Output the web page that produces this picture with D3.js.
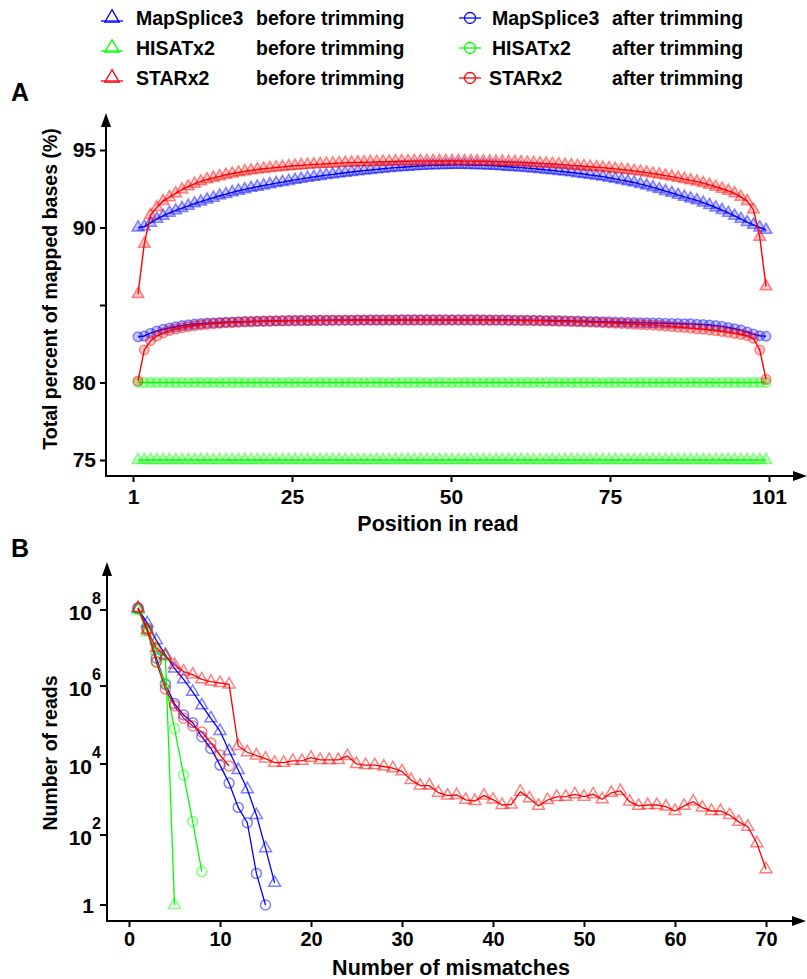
<!DOCTYPE html>
<html><head><meta charset="utf-8">
<script src="https://cdn.jsdelivr.net/npm/d3@7/dist/d3.min.js"></script>
<style>
body{margin:0;background:#fff}
text{font-family:"Liberation Sans",Arial,sans-serif;font-weight:bold;fill:#000}
</style></head><body>
<svg id="c" width="807" height="979"></svg>
<script>
// ---------------- DATA ----------------
const tools = ["MapSplice3", "HISATx2", "STARx2"];
const toolColors = ["#0000ff", "#00ff00", "#ff0000"];

// Panel A: total percent of mapped bases at each read position (1..101)
const positionTickLabels = ["1", "25", "50", "75", "101"];
const percentTicks = [75, 80, 85, 90, 95];
const percentTickLabels = ["75", "80", "", "90", "95"];

const mapSpliceBeforeA = [90.0,90.05,90.3,90.55,90.75,90.95,91.1,91.25,91.4,91.55,91.67,91.8,91.92,92.05,92.15,92.27,92.37,92.46,92.55,92.63,92.71,92.78,92.86,92.93,93.0,93.07,93.14,93.2,93.26,93.32,93.38,93.43,93.48,93.53,93.58,93.63,93.67,93.71,93.75,93.79,93.83,93.86,93.89,93.92,93.95,93.97,93.99,94.01,94.02,94.03,94.04,94.04,94.04,94.03,94.02,94.01,94.0,93.98,93.95,93.92,93.89,93.86,93.83,93.8,93.76,93.72,93.68,93.64,93.6,93.55,93.5,93.45,93.39,93.34,93.28,93.21,93.14,93.06,92.98,92.9,92.8,92.7,92.59,92.47,92.35,92.23,92.1,91.98,91.86,91.75,91.6,91.45,91.29,91.12,90.94,90.75,90.55,90.35,90.17,90.0,89.85];
const hisatBeforeA = [75,75,75,75,75,75,75,75,75,75,75,75,75,75,75,75,75,75,75,75,75,75,75,75,75,75,75,75,75,75,75,75,75,75,75,75,75,75,75,75,75,75,75,75,75,75,75,75,75,75,75,75,75,75,75,75,75,75,75,75,75,75,75,75,75,75,75,75,75,75,75,75,75,75,75,75,75,75,75,75,75,75,75,75,75,75,75,75,75,75,75,75,75,75,75,75,75,75,75,75,75];
const starBeforeA = [85.7,88.95,90.8,91.3,91.7,91.95,92.2,92.45,92.65,92.82,92.97,93.1,93.2,93.3,93.4,93.48,93.55,93.62,93.68,93.74,93.79,93.83,93.87,93.91,93.95,93.98,94.01,94.04,94.07,94.09,94.11,94.13,94.15,94.17,94.19,94.2,94.21,94.22,94.23,94.24,94.25,94.26,94.27,94.27,94.28,94.28,94.28,94.29,94.29,94.29,94.29,94.29,94.28,94.28,94.27,94.27,94.26,94.25,94.24,94.23,94.22,94.2,94.18,94.16,94.14,94.12,94.1,94.07,94.04,94.01,93.98,93.95,93.92,93.89,93.86,93.82,93.78,93.74,93.7,93.65,93.6,93.54,93.48,93.42,93.35,93.28,93.2,93.12,93.04,92.96,92.86,92.75,92.63,92.5,92.36,92.2,91.98,91.7,91.15,89.4,86.2];
const mapSpliceAfterA = [82.95,83.0,83.18,83.32,83.43,83.52,83.6,83.67,83.72,83.77,83.8,83.83,83.85,83.87,83.89,83.9,83.92,83.93,83.94,83.95,83.96,83.97,83.98,83.98,83.99,83.99,84.0,84.0,84.01,84.01,84.01,84.02,84.02,84.02,84.02,84.03,84.03,84.03,84.03,84.03,84.03,84.03,84.04,84.04,84.04,84.04,84.04,84.04,84.04,84.04,84.04,84.04,84.04,84.04,84.04,84.04,84.03,84.03,84.03,84.03,84.02,84.02,84.02,84.01,84.01,84.0,84.0,83.99,83.98,83.97,83.96,83.95,83.94,83.93,83.92,83.91,83.9,83.89,83.88,83.87,83.86,83.85,83.84,83.83,83.82,83.81,83.8,83.79,83.78,83.76,83.74,83.71,83.67,83.62,83.55,83.47,83.38,83.25,83.12,83.02,82.98];
const hisatAfterA = [80,80,80,80,80,80,80,80,80,80,80,80,80,80,80,80,80,80,80,80,80,80,80,80,80,80,80,80,80,80,80,80,80,80,80,80,80,80,80,80,80,80,80,80,80,80,80,80,80,80,80,80,80,80,80,80,80,80,80,80,80,80,80,80,80,80,80,80,80,80,80,80,80,80,80,80,80,80,80,80,80,80,80,80,80,80,80,80,80,80,80,80,80,80,80,80,80,80,80,80,80];
const starAfterA = [80.1,82.1,82.7,83.0,83.2,83.35,83.45,83.53,83.6,83.66,83.71,83.75,83.79,83.82,83.85,83.87,83.89,83.91,83.92,83.94,83.95,83.96,83.97,83.98,83.99,83.99,84.0,84.0,84.0,84.01,84.01,84.01,84.02,84.02,84.02,84.02,84.02,84.03,84.03,84.03,84.03,84.03,84.03,84.03,84.03,84.03,84.03,84.03,84.03,84.03,84.03,84.03,84.03,84.03,84.03,84.02,84.02,84.02,84.02,84.01,84.01,84.0,84.0,83.99,83.98,83.97,83.96,83.95,83.94,83.93,83.92,83.91,83.89,83.88,83.86,83.84,83.82,83.8,83.78,83.76,83.74,83.72,83.7,83.67,83.64,83.61,83.58,83.55,83.51,83.47,83.43,83.39,83.34,83.29,83.23,83.17,83.1,83.02,82.85,82.1,80.2];

// Panel B: number of reads by number of mismatches (starting at 1 mismatch)
const mismatchTicks = [0, 10, 20, 30, 40, 50, 60, 70];
const readTicks = [1, 1e2, 1e4, 1e6, 1e8];
const readTickExp = ["", "2", "4", "6", "8"];
const mapSpliceBeforeB = [1.07e8,4.5e7,1.6e7,6.6e6,2.9e6,1.5e6,7.1e5,3.2e5,1.48e5,7.0e4,2.15e4,6800,1950,365,42,4.3];
const hisatBeforeB = [1.0e8,2.6e7,8.5e6,5.9e6,1];
const starBeforeB = [1.15e8,2.96e7,1.0e7,6.2e6,3.6e6,2.4e6,2.0e6,1.5e6,1.3e6,1.2e6,1.1e6,2.9e4,2.0e4,1.65e4,1.38e4,1.08e4,1.08e4,1.2e4,1.2e4,1.45e4,1.27e4,1.27e4,1.27e4,1.6e4,1.0e4,9300,9300,8500,7600,6200,3550,2460,2460,1550,1290,1340,980,910,1290,990,700,720,1660,1080,660,970,1180,1200,1400,1200,1400,1010,1550,1740,870,660,700,700,630,475,660,870,590,475,475,365,235,171,58,10.5];
const mapSpliceAfterB = [1.12e8,3.3e7,5.4e6,1.1e6,3.55e5,1.8e5,1.15e5,5.0e4,2.5e4,9300,2900,600,222,8,1];
const hisatAfterB = [1.0e8,3.2e7,4.4e6,1.2e6,8.1e4,4900,240,9];
const starAfterB = [1.15e8,2.96e7,4.3e6,8.4e5,3.1e5,1.5e5,9.4e4,6.6e4,3.45e4,1.7e4,8800];

// ---------------- DRAW ----------------
const svg = d3.select("#c");
const triangle = d3.symbol().type(d3.symbolTriangle);
const circle = d3.symbol().type(d3.symbolCircle);

function arrowAxes(g, x0, y0, x1, y1) {
  g.append("line").attr("x1", x0).attr("y1", y0 + 1).attr("x2", x0).attr("y2", y1 + 10)
    .attr("stroke", "#000").attr("stroke-width", 2);
  g.append("path").attr("d", `M${x0},${y1} L${x0 - 5},${y1 + 14} L${x0 + 5},${y1 + 14} Z`).attr("fill", "#000");
  g.append("line").attr("x1", x0 - 1).attr("y1", y0).attr("x2", x1 - 10).attr("y2", y0)
    .attr("stroke", "#000").attr("stroke-width", 2);
  g.append("path").attr("d", `M${x1},${y0} L${x1 - 14},${y0 - 5} L${x1 - 14},${y0 + 5} Z`).attr("fill", "#000");
}

// ----- Legend -----
const legend = svg.append("g");
const legendRows = [18, 48, 78];
tools.forEach((t, i) => {
  const y = legendRows[i];
  legend.append("line").attr("x1", 101).attr("x2", 123).attr("y1", y + 3).attr("y2", y + 3)
    .attr("stroke", toolColors[i]).attr("stroke-width", 1.3);
  legend.append("path").attr("d", triangle.size(90)()).attr("transform", `translate(112,${y})`)
    .attr("fill", "none").attr("stroke", toolColors[i]).attr("stroke-width", 1.3);
  legend.append("text").attr("x", 136).attr("y", y + 7).style("font-size", "19.5px").text(t);
  legend.append("text").attr("x", 256).attr("y", y + 7).style("font-size", "19.5px").text("before trimming");
  legend.append("line").attr("x1", 459).attr("x2", 481).attr("y1", y).attr("y2", y)
    .attr("stroke", toolColors[i]).attr("stroke-width", 1.3);
  legend.append("circle").attr("cx", 470).attr("cy", y).attr("r", 5.5)
    .attr("fill", "none").attr("stroke", toolColors[i]).attr("stroke-width", 1.3);
  legend.append("text").attr("x", i === 2 ? 489 : 492).attr("y", y + 7).style("font-size", "19.5px").text(t);
  legend.append("text").attr("x", 612).attr("y", y + 7).style("font-size", "19.5px").text("after trimming");
});

// ----- Panel A -----
const gA = svg.append("g");
gA.append("text").attr("x", 11).attr("y", 101).style("font-size", "25px").text("A");
const posCats = d3.range(1, 102);
const xA = d3.scalePoint().domain(posCats).range([138, 766]);
const xAaxis = d3.scaleLinear().domain([0, 100]).range([133, 769]);
const yA = d3.scaleLinear().domain([75, 95]).range([460, 150]);
arrowAxes(gA, 106, 476, 807, 113);

const yAxisA = d3.axisLeft(yA).tickValues(percentTicks).tickSize(6)
  .tickFormat((d, i) => percentTickLabels[i]);
const gyA = gA.append("g").attr("transform", "translate(106,0)").call(yAxisA);
gyA.select(".domain").remove();
gyA.selectAll("line").attr("stroke", "#000").attr("stroke-width", 2);
gyA.selectAll("text").style("font-size", "21px").style("font-family", "Liberation Sans, Arial").style("font-weight", "bold").attr("x", -10);

const xAxisA = d3.axisBottom(xAaxis).tickValues([0, 25, 50, 75, 100]).tickSize(6)
  .tickFormat((d, i) => positionTickLabels[i]);
const gxA = gA.append("g").attr("transform", "translate(0,476)").call(xAxisA);
gxA.select(".domain").remove();
gxA.selectAll("line").attr("stroke", "#000").attr("stroke-width", 2);
gxA.selectAll("text").style("font-size", "21px").style("font-family", "Liberation Sans, Arial").style("font-weight", "bold").attr("y", 13);

gA.append("text").attr("x", 438).attr("y", 531).attr("text-anchor", "middle").style("font-size", "21.5px").text("Position in read");
gA.append("text").attr("transform", "translate(57,289) rotate(-90)").attr("text-anchor", "middle").style("font-size", "19.5px").text("Total percent of mapped bases (%)");

const seriesA = [
  {v: mapSpliceBeforeA, c: 0, s: "tri"},
  {v: hisatBeforeA, c: 1, s: "tri"},
  {v: starBeforeA, c: 2, s: "tri"},
  {v: mapSpliceAfterA, c: 0, s: "cir"},
  {v: hisatAfterA, c: 1, s: "cir"},
  {v: starAfterA, c: 2, s: "cir"}
];
const lineA = d3.line().x((d, i) => xA(posCats[i])).y(d => yA(d));
seriesA.forEach(s => {
  const col = toolColors[s.c];
  const g = gA.append("g");
  g.append("path").attr("d", lineA(s.v)).attr("fill", "none").attr("stroke", col).attr("stroke-width", 1.4);
  g.selectAll("path.m").data(s.v).join("path").attr("class", "m")
    .attr("d", s.s === "tri" ? triangle.size(60)() : circle.size(72)())
    .attr("transform", (d, i) => `translate(${xA(posCats[i])},${yA(d)})`)
    .attr("fill", col).attr("fill-opacity", 0.22)
    .attr("stroke", col).attr("stroke-opacity", 0.45).attr("stroke-width", 1.5);
});

// ----- Panel B -----
const gB = svg.append("g");
gB.append("text").attr("x", 11).attr("y", 557).style("font-size", "25px").text("B");
const xB = d3.scaleLinear().domain([0, 70]).range([129, 766]);
// piecewise log scale, matching the unevenly spaced decades of the original axis
const yB = d3.scaleLog().domain(readTicks).range([905, 835, 764, 686, 610]);
arrowAxes(gB, 107, 921, 806, 562);

const xAxisB = d3.axisBottom(xB).tickValues(mismatchTicks).tickSize(6).tickFormat(d3.format("d"));
const gxB = gB.append("g").attr("transform", "translate(0,921)").call(xAxisB);
gxB.select(".domain").remove();
gxB.selectAll("line").attr("stroke", "#000").attr("stroke-width", 2);
gxB.selectAll("text").style("font-size", "20px").style("font-family", "Liberation Sans, Arial").style("font-weight", "bold").attr("y", 11);

readTicks.forEach((t, i) => {
  const y = yB(t);
  gB.append("line").attr("x1", 100).attr("x2", 107).attr("y1", y).attr("y2", y).attr("stroke", "#000").attr("stroke-width", 2);
  if (readTickExp[i] === "") {
    gB.append("text").attr("x", 94).attr("y", y + 8).attr("text-anchor", "end").style("font-size", "21px").text("1");
  } else {
    gB.append("text").attr("x", 92).attr("y", y + 10).attr("text-anchor", "end").style("font-size", "21px").text("10");
    gB.append("text").attr("x", 92).attr("y", y - 6).style("font-size", "16px").text(readTickExp[i]);
  }
});

gB.append("text").attr("x", 451).attr("y", 975).attr("text-anchor", "middle").style("font-size", "21.5px").text("Number of mismatches");
gB.append("text").attr("transform", "translate(57,753) rotate(-90)").attr("text-anchor", "middle").style("font-size", "19.5px").text("Number of reads");

const seriesB = [
  {v: mapSpliceBeforeB, c: 0, s: "tri"},
  {v: mapSpliceAfterB, c: 0, s: "cir"},
  {v: hisatBeforeB, c: 1, s: "tri"},
  {v: hisatAfterB, c: 1, s: "cir"},
  {v: starBeforeB, c: 2, s: "tri"},
  {v: starAfterB, c: 2, s: "cir"}
];
const lineB = d3.line().x((d, i) => xB(i + 1)).y(d => yB(d));
seriesB.forEach(s => {
  const col = toolColors[s.c];
  const g = gB.append("g");
  g.append("path").attr("d", lineB(s.v)).attr("fill", "none").attr("stroke", col).attr("stroke-width", 1.3);
  g.selectAll("path.m").data(s.v).join("path").attr("class", "m")
    .attr("d", s.s === "tri" ? triangle.size(62)() : circle.size(78)())
    .attr("transform", (d, i) => `translate(${xB(i + 1)},${yB(d)})`)
    .attr("fill", "none")
    .attr("stroke", col).attr("stroke-opacity", 0.5).attr("stroke-width", 1.5);
});
</script></body></html>
